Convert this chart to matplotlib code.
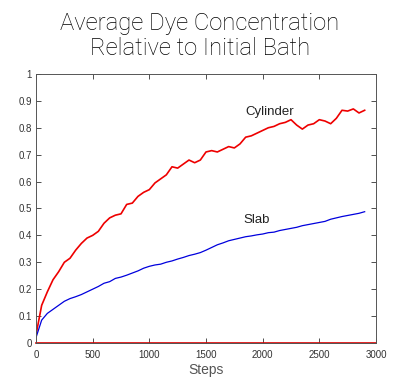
import matplotlib
matplotlib.use("Agg")
import matplotlib.pyplot as plt

# --------------------------
# Data
# --------------------------
steps = list(range(0, 2901, 50))

cylinder = [0.03, 0.14, 0.19, 0.235, 0.265, 0.30, 0.315, 0.345, 0.37, 0.39,
            0.40, 0.415, 0.445, 0.465, 0.475, 0.48, 0.515, 0.52, 0.545, 0.56,
            0.57, 0.595, 0.61, 0.625, 0.655, 0.65, 0.665, 0.68, 0.67, 0.68,
            0.71, 0.715, 0.71, 0.72, 0.73, 0.725, 0.74, 0.765, 0.77, 0.78,
            0.79, 0.80, 0.805, 0.815, 0.82, 0.83, 0.81, 0.795, 0.81, 0.815,
            0.83, 0.825, 0.815, 0.835, 0.865, 0.862, 0.87, 0.855, 0.865]

slab = [0.02, 0.085, 0.11, 0.125, 0.14, 0.155, 0.165, 0.172, 0.18, 0.19,
        0.20, 0.21, 0.222, 0.228, 0.24, 0.245, 0.252, 0.26, 0.268, 0.278,
        0.285, 0.29, 0.293, 0.30, 0.305, 0.312, 0.318, 0.325, 0.33, 0.336,
        0.345, 0.355, 0.365, 0.372, 0.38, 0.385, 0.39, 0.395, 0.398, 0.402,
        0.405, 0.41, 0.412, 0.418, 0.422, 0.426, 0.43, 0.436, 0.44, 0.444,
        0.448, 0.452, 0.46, 0.465, 0.47, 0.474, 0.478, 0.482, 0.488]

baseline_x = [0, 3000]
baseline_y = [0, 0]

x_ticks = [0, 500, 1000, 1500, 2000, 2500, 3000]
y_ticks = [0, 0.1, 0.2, 0.3, 0.4, 0.5, 0.6, 0.7, 0.8, 0.9, 1]
y_tick_labels = ["0", "0.1", "0.2", "0.3", "0.4", "0.5", "0.6", "0.7", "0.8", "0.9", "1"]

# --------------------------
# Plotting
# --------------------------
plt.rcParams["font.family"] = ["Liberation Sans", "DejaVu Sans"]
light = ["Roboto", "Liberation Sans"]

fig = plt.figure(figsize=(4, 3.8), dpi=100)
ax = fig.add_axes([0.09, 0.0974, 0.85, 0.708])

ax.plot(steps, cylinder, color="#ee0000", lw=1.2)
ax.plot(steps, slab, color="#0000dd", lw=0.9)
ax.plot(baseline_x, baseline_y, color="#dd0000", lw=1.2, clip_on=False)

ax.text(2065, 0.86, "Cylinder", fontsize=9.5, color="#222222", ha="center", va="center")
ax.text(1950, 0.457, "Slab", fontsize=9.5, color="#222222", ha="center", va="center")

ax.set_xlim(0, 3000)
ax.set_ylim(0, 1)
ax.set_xticks(x_ticks)
ax.set_yticks(y_ticks)
ax.set_yticklabels(y_tick_labels)
ax.tick_params(direction="in", length=3.5, width=0.6, top=True, right=True,
               labelsize=7, colors="#333333", pad=3)
ax.tick_params(axis="x", pad=5)
for s in ax.spines.values():
    s.set_color("#555555")
    s.set_linewidth(0.7)

ax.set_xlabel("Steps", fontsize=10, color="#555555", labelpad=2)

fig.text(0.5, 0.968, "Average Dye Concentration\nRelative to Initial Bath",
         ha="center", va="top", fontsize=17.2, color="#000000",
         family=light, fontweight="light", linespacing=1.12)

plt.savefig("out.png", dpi=100)
plt.close()
